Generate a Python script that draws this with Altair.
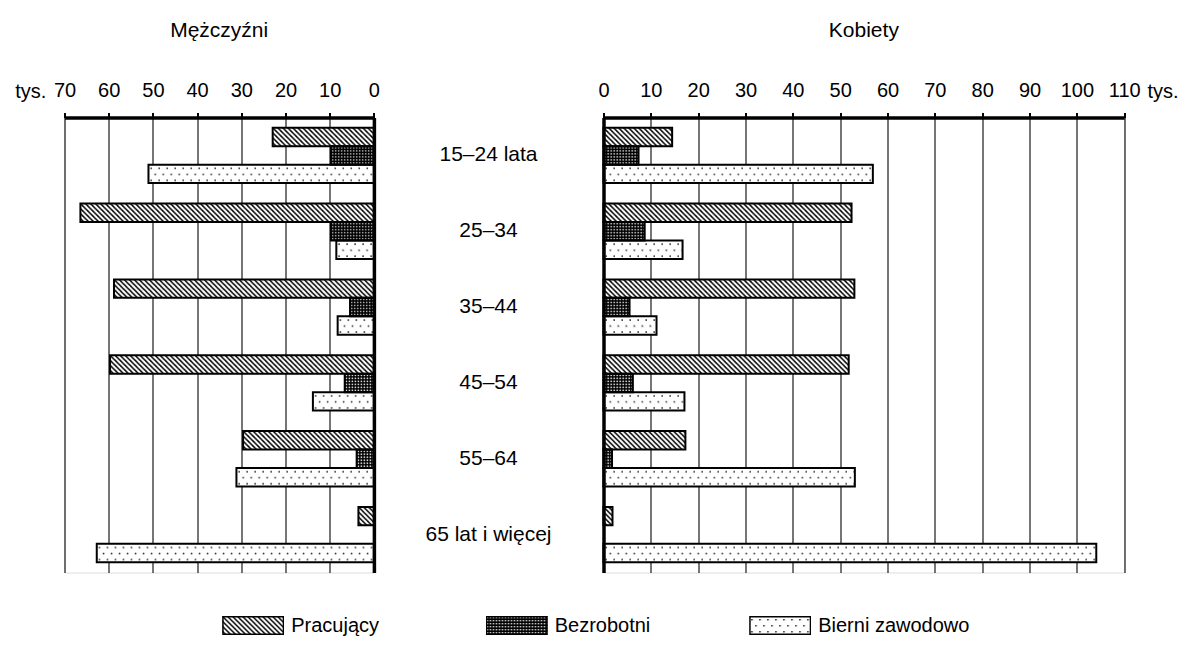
import base64
import altair as alt
import pandas as pd

# ---------------- data ----------------
ages = ["15–24 lata", "25–34", "35–44", "45–54", "55–64", "65 lat i więcej"]
series = ["Pracujący", "Bezrobotni", "Bierni zawodowo"]

men_pracujacy = [22.9, 66.4, 58.8, 59.7, 29.6, 3.5]
men_bezrobotni = [9.7, 9.7, 5.4, 6.6, 3.9, 0.0]
men_bierni = [51.0, 8.5, 8.2, 13.8, 31.1, 62.7]

women_pracujacy = [14.5, 52.4, 53.0, 51.8, 17.3, 1.9]
women_bezrobotni = [7.4, 8.7, 5.5, 6.2, 1.8, 0.0]
women_bierni = [56.9, 16.7, 11.2, 17.1, 53.1, 104.1]

men_ticks = list(range(0, 71, 10))
women_ticks = list(range(0, 111, 10))

# ---------------- styles ----------------
FONT = "Liberation Sans, Arial, sans-serif"
FS_TITLE = 21
FS_TICK = 20
FS_CAT = 21
FS_LEG = 20


def long_table(values_by_series):
    rows = []
    for s, vals in zip(series, values_by_series):
        for a, v in zip(ages, vals):
            rows.append({"age": a, "series": s, "value": v})
    return pd.DataFrame(rows)


men = long_table([men_pracujacy, men_bezrobotni, men_bierni])
women = long_table([women_pracujacy, women_bezrobotni, women_bierni])


def svg_image(pattern, border=0):
    border_attr = f" stroke='black' stroke-width='{border}'" if border else ""
    svg = (
        "<svg xmlns='http://www.w3.org/2000/svg' width='100%' height='100%'>"
        f"<defs><pattern id='p' patternUnits='userSpaceOnUse' {pattern}</pattern></defs>"
        f"<rect x='0' y='0' width='100%' height='100%' fill='url(#p)'{border_attr}/></svg>"
    )
    return "data:image/svg+xml;base64," + base64.b64encode(svg.encode("utf-8")).decode("ascii")


patterns = {
    "Pracujący": "width='5' height='5'><rect width='5' height='5' fill='white'/>"
                 "<path d='M-1,-1L6,6M-6,-1L1,6M4,-1L11,6' stroke='black' stroke-width='1.5'/>",
    "Bezrobotni": "width='3' height='3'><rect width='3' height='3' fill='black'/>"
                  "<rect x='1' y='1' width='1.4' height='1.4' fill='#e6e6e6'/>",
    "Bierni zawodowo": "width='8' height='12'><rect width='8' height='12' fill='white'/>"
                       "<rect x='2' y='3' width='1.5' height='1.5' fill='#222222'/>"
                       "<rect x='6' y='9' width='1.5' height='1.5' fill='#222222'/>",
}
bar_urls = {s: svg_image(p) for s, p in patterns.items()}
legend_urls = {s: svg_image(p, border=3) for s, p in patterns.items()}

y_scale = alt.Scale(domain=ages, paddingInner=0.27, paddingOuter=0.135)
off_scale = alt.Scale(domain=series, paddingInner=0, paddingOuter=0)


def panel(df, ticks, reverse, y_orient, title, tys_x, width):
    x_scale = alt.Scale(domain=[0, ticks[-1]], reverse=reverse, nice=False)
    x_axis = alt.Axis(
        orient="top", values=ticks, format="d",
        title="tys.", titleX=tys_x, titleY=-20, titleAngle=0, titleAlign="center",
        titleBaseline="alphabetic", titleFont=FONT, titleFontSize=FS_TICK,
        titleFontWeight="normal", titleColor="black",
        labelFont=FONT, labelFontSize=FS_TICK, labelColor="black", labelBaseline="alphabetic",
        labelPadding=16, labelFlush=False, labelOverlap=False,
        tickSize=5, tickWidth=2, tickColor="black",
        domainColor="black", domainWidth=3.5,
        grid=True, gridColor="#1a1a1a", gridWidth=1.2, gridOpacity=1,
    )
    y_axis = alt.Axis(orient=y_orient, labels=False, ticks=False, title=None,
                      domain=True, domainColor="black", domainWidth=3.5,
                      grid=False, zindex=2)
    x = alt.X("value:Q", scale=x_scale, axis=x_axis)
    y = alt.Y("age:N", sort=ages, scale=y_scale, axis=y_axis)
    yo = alt.YOffset("series:N", sort=series, scale=off_scale)
    base = alt.Chart(df)
    layers = []
    for s in series:
        layers.append(
            base.transform_filter(alt.datum.series == s)
            .transform_filter(alt.datum.value > 0)
            .mark_image(aspect=False)
            .encode(x=x, x2=alt.datum(0), y=y, yOffset=yo, url=alt.value(bar_urls[s]))
        )
    layers.append(
        base.transform_filter(alt.datum.value > 0)
        .mark_bar(fill="transparent", stroke="black", strokeWidth=2)
        .encode(x=x, y=y, yOffset=yo)
    )
    return alt.layer(*layers).properties(
        width=width, height=455,
        title=alt.Title(title, font=FONT, fontSize=FS_TITLE, fontWeight="normal", color="black",
                        anchor="middle", frame="group", offset=23, baseline="alphabetic"),
    )


left = panel(men, men_ticks, True, "right", "Mężczyźni", -34.3, 309.4)
right = panel(women, women_ticks, False, "left", "Kobiety", 559, 520.7)

middle = (
    alt.Chart(pd.DataFrame({"age": ages}))
    .mark_text(font=FONT, fontSize=FS_CAT, color="black", baseline="middle", align="center")
    .encode(y=alt.Y("age:N", sort=ages, scale=y_scale, axis=None), text="age:N")
    .properties(width=214, height=455, view=alt.ViewBackground(stroke="transparent"))
)

legend_base = alt.Chart(pd.DataFrame({"series": series}))
lx = alt.X("series:N", sort=series,
           scale=alt.Scale(domain=series, range=[56.95, 847.45], paddingInner=0, paddingOuter=0),
           axis=None)
legend_layers = []
for s in series:
    legend_layers.append(
        legend_base.transform_filter(alt.datum.series == s)
        .mark_image(width=62, height=19, aspect=False)
        .encode(x=lx, url=alt.value(legend_urls[s]))
    )
legend_layers.append(
    legend_base.mark_text(font=FONT, fontSize=FS_LEG, color="black", align="left",
                          baseline="middle", dx=38)
    .encode(x=lx, y=alt.value(0), text="series:N")
)
legend = alt.layer(*legend_layers).properties(
    width=1000, height=1, view=alt.ViewBackground(stroke="transparent"))

chart = (
    alt.vconcat(alt.hconcat(left, middle, right, spacing=0), legend, spacing=41)
    .properties(padding={"left": 5.5, "top": 10.5, "right": 0, "bottom": 0})
    .configure_view(stroke="black", strokeWidth=1.2)
    .configure(background="white")
)

chart.save("out.html", embed_options={"renderer": "svg", "actions": False})
